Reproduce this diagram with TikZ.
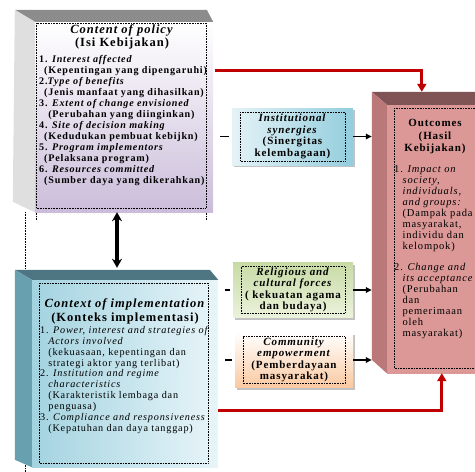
\documentclass[tikz,border=0pt]{standalone}
\usepackage{fontspec}
\setmainfont{Liberation Serif}[LetterSpace=8.0]
\usetikzlibrary{
    arrows.meta,
    positioning,
    calc,
    shadows
}
\definecolor{policyred}{RGB}{192,0,0}
\definecolor{lavender}{RGB}{203,189,218}
\definecolor{ctxtop}{RGB}{78,118,130}
\definecolor{ctxside}{RGB}{104,160,176}
\definecolor{ctxleft}{RGB}{163,211,224}
\definecolor{ctxright}{RGB}{232,245,249}
\definecolor{outtopc}{RGB}{128,84,84}
\definecolor{outside}{RGB}{186,120,120}
\definecolor{outpink}{RGB}{219,152,151}
\definecolor{outlight}{RGB}{244,222,221}
\definecolor{synblue}{RGB}{147,205,221}
\definecolor{relgreen}{RGB}{200,219,165}
\definecolor{relpale}{RGB}{235,242,221}
\definecolor{compeach}{RGB}{250,200,160}

\begin{document}
\begin{tikzpicture}[
    x=1pt, y=-1pt,
    face/.style={rectangle, inner sep=0pt, draw=none},
    dotframe/.style={densely dotted, line width=0.6pt},
    sidebox/.style={
        rectangle, inner sep=0pt, minimum width=120pt, minimum height=55pt,
        align=center, font=\fontsize{11}{11.5}\selectfont\bfseries,
        drop shadow={shadow xshift=2pt, shadow yshift=-2pt, fill=black!40, opacity=0.6},
        path picture={\draw[dotframe]
            ([xshift=8pt,yshift=-4pt]path picture bounding box.north west) rectangle
            ([xshift=-8pt,yshift=4pt]path picture bounding box.south east);}
    },
    heading/.style={font=\fontsize{11}{12.5}\selectfont\bfseries, align=center, inner sep=0pt},
    itemlist/.style={align=left, inner sep=0pt, anchor=north west},
    link/.style={line width=1.7pt},
    arrowlink/.style={-{Triangle[length=6pt,width=5.5pt]}, line width=1.7pt},
    redarrow/.style={-{Triangle[length=8pt,width=9pt]}, line width=3pt, policyred},
    dblarrow/.style={{Stealth[length=9pt,width=10pt]}-{Stealth[length=9pt,width=10pt]}, line width=3.4pt}
]
\useasboundingbox (0,0) rectangle (475,472);
\clip (0,0) rectangle (475,472);

% dotted guide left of the boxes
\draw[dotframe] (25,212) -- (25,472);
\draw[dotframe] (36,208) -- (36,220);
\draw[dotframe] (206,208) -- (206,220);

% Content of policy (3D box)
\node[face, minimum width=178pt, minimum height=190pt, top color=white, bottom color=lavender] (content) at (124,117) {};
\fill[black!45] (content.north west) -- ++(-20,-12) -- ++(192,0) -- (content.north east) -- cycle;
\fill[gray!25] (content.north west) -- ++(-20,-12) -- ++(-2,192) -- (content.south west) -- cycle;
\draw[dotframe] (36,23) rectangle (206,208);
\node[heading, font=\fontsize{12.5}{13}\selectfont\bfseries] (contenthead) at (122,37) {\textit{Content of policy}\\(Isi Kebijakan)};
\node[itemlist, font=\fontsize{10.1}{11}\selectfont\bfseries] (contentlist) at (39,55) {%
    1. \textit{Interest affected}\\
    \hspace*{0.5em}(Kepentingan yang dipengaruhi)\\
    2.\textit{Type of benefits}\\
    \hspace*{0.5em}(Jenis manfaat yang dihasilkan)\\
    3. \textit{Extent of change envisioned}\\
    \hspace*{0.9em}(Perubahan yang diinginkan)\\
    4. \textit{Site of decision making}\\
    \hspace*{0.5em}(Kedudukan pembuat kebijkn)\\
    5. \textit{Program implementors}\\
    \hspace*{0.5em}(Pelaksana program)\\
    6. \textit{Resources committed}\\
    \hspace*{0.5em}(Sumber daya yang dikerahkan)};

% Context of implementation (3D box)
\node[face, minimum width=186pt, minimum height=187pt, left color=ctxleft, right color=ctxright] (context) at (125,373.5) {};
\fill[ctxtop] (context.north west) -- ++(-17,-10) -- ++(195,0) -- (context.north east) -- cycle;
\fill[ctxside] (context.north west) -- ++(-17,-10) -- ++(0,190) -- (context.south west) -- cycle;
\draw[dotframe] (39,283) rectangle (208,463);
\node[heading, font=\fontsize{12.5}{14}\selectfont\bfseries] (contexthead) at (125,311) {\textit{Context of implementation}\\(Konteks implementasi)};
\node[itemlist, font=\fontsize{10.2}{10.9}\selectfont] (contextlist) at (40,326) {%
    1. \textit{Power, interest and strategies of}\\
    \hspace*{0.8em}\textit{Actors involved}\\
    \hspace*{0.8em}(kekuasaan, kepentingan dan\\
    \hspace*{0.8em}strategi aktor yang terlibat)\\
    2. \textit{Institution and regime}\\
    \hspace*{0.8em}\textit{characteristics}\\
    \hspace*{0.8em}(Karakteristik lembaga dan\\
    \hspace*{0.8em}penguasa)\\
    3. \textit{Compliance and responsiveness}\\
    \hspace*{0.8em}(Kepatuhan dan daya tanggap)};

% Outcomes (3D box)
\node[face, minimum width=103pt, minimum height=268pt, left color=outpink, middle color=outlight, right color=outpink] (outcome) at (438.5,239) {};
\fill[outtopc] (outcome.north west) -- ++(-15,-13) -- ++(120,0) -- (outcome.north east) -- cycle;
\fill[outside] (outcome.north west) -- ++(-15,-13) -- ++(0,268) -- (outcome.south west) -- cycle;
\draw[dotframe] (394,108) rectangle (480,368);
\node[heading] (outcomehead) at (435,137) {Outcomes\\(Hasil\\Kebijakan)};
\node[itemlist, font=\fontsize{10.5}{11}\selectfont] (outcomelist) at (394,165) {%
    1. \textit{Impact on}\\
    \hspace*{0.8em}\textit{society,}\\
    \hspace*{0.8em}\textit{individuals,}\\
    \hspace*{0.8em}\textit{and groups:}\\
    \hspace*{0.8em}(Dampak pada\\
    \hspace*{0.8em}masyarakat,\\
    \hspace*{0.8em}individu dan\\
    \hspace*{0.8em}kelompok)\\[10pt]
    2. \textit{Change and}\\
    \hspace*{0.8em}\textit{its acceptance}\\
    \hspace*{0.8em}(Perubahan\\
    \hspace*{0.8em}dan\\
    \hspace*{0.8em}pemerimaan\\
    \hspace*{0.8em}oleh\\
    \hspace*{0.8em}masyarakat)};
\coordinate (outleft) at ([xshift=-15pt]outcome.west);
\coordinate (outtop) at ([xshift=35pt,yshift=13pt]outcome.north west);
\coordinate (outbot) at ([xshift=55pt]outcome.south west);

% Middle boxes
\node[sidebox, minimum width=121pt, minimum height=57pt, left color=synblue!25, right color=synblue] (inst) at (292.5,136.5) {\textit{Institutional}\\\textit{synergies}\\(Sinergitas\\kelembagaan)};
\node[sidebox, top color=relgreen, bottom color=relpale] (rel) at (293,290) {\textit{Religious and}\\\textit{cultural forces}\\( kekuatan agama\\dan budaya)};
\node[sidebox, minimum width=118pt, top color=white, bottom color=compeach] (comm) at (294,360) {\textit{Community}\\\textit{empowerment}\\(Pemberdayaan\\masyarakat)};

% Connectors
\draw[link] ([xshift=7pt]content.east |- inst.west) -- ([xshift=-3pt]inst.west);
\draw[arrowlink] (inst.east) -- (inst.east -| outleft);
\draw[link] ([xshift=7pt]context.east |- rel.west) -- ([xshift=-3pt]rel.west);
\draw[arrowlink] (rel.east) -- (rel.east -| outleft);
\draw[link] ([xshift=7pt]context.east |- comm.west) -- ([xshift=-3pt]comm.west);
\draw[arrowlink] (comm.east) -- (comm.east -| outleft);

% Red direct links
\draw[redarrow] ([xshift=2pt,yshift=47pt]content.east) -| (outtop);
\draw[redarrow] ([yshift=-36.5pt]context.east) -| (outbot);

% Between content and context
\draw[dblarrow] ([xshift=-7pt]content.south) -- ([xshift=-8pt,yshift=12pt]context.north);

\end{tikzpicture}
\end{document}
